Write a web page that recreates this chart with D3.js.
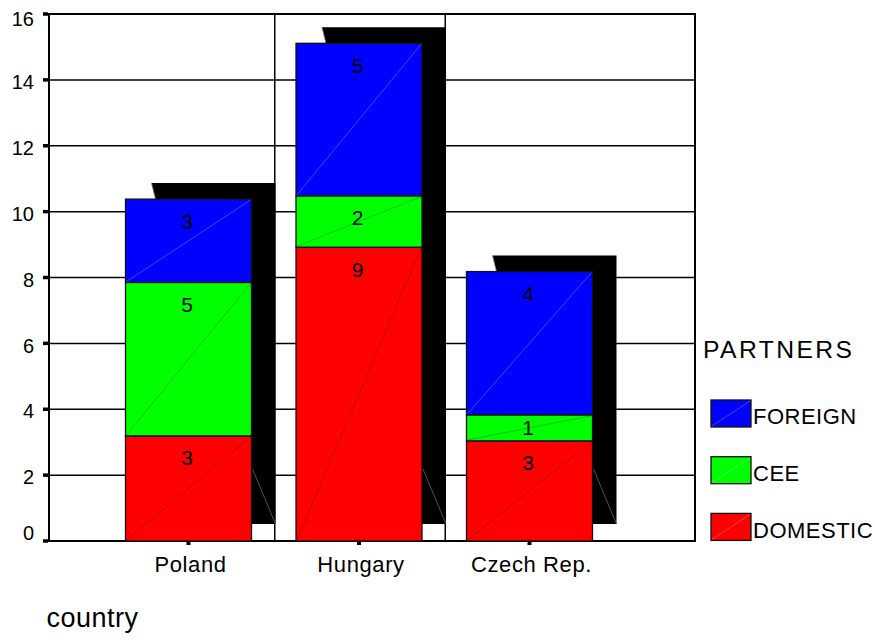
<!DOCTYPE html>
<html>
<head>
<meta charset="utf-8">
<script src="https://cdn.jsdelivr.net/npm/d3@7"></script>
<style>
  body { margin: 0; background: #fff; }
  svg { display: block; }
  text { font-family: "Liberation Sans", Arial, sans-serif; fill: #000; }
</style>
</head>
<body>
<svg id="chart" width="875" height="642"></svg>
<script>
// Partner counts per country (stacked bottom to top: DOMESTIC, CEE, FOREIGN)
const countries = ["Poland", "Hungary", "Czech Rep."];
const partners = ["DOMESTIC", "CEE", "FOREIGN"];
const domestic = [3.19, 8.92, 3.04];
const cee = [4.66, 1.56, 0.79];
const foreign = [2.53, 4.63, 4.35];
const yTicks = [0, 2, 4, 6, 8, 10, 12, 14, 16];
const partnerColors = ["#ff0000", "#00ff00", "#0000ff"];
const legendOrder = ["FOREIGN", "CEE", "DOMESTIC"];

const svg = d3.select("#chart");
const plot = { left: 49, right: 695, top: 14, bottom: 541 };

const y = d3.scaleLinear().domain([0, 16]).range([plot.bottom, plot.top]);
const x = d3.scaleBand().domain(countries).range([103.25, 614.75])
  .paddingInner(0.261).paddingOuter(0.1305);
const color = d3.scaleOrdinal().domain(partners).range(partnerColors);
const fmt = d3.format(".0f");

const table = countries.map((c, i) => ({
  country: c, DOMESTIC: domestic[i], CEE: cee[i], FOREIGN: foreign[i]
}));
const series = d3.stack().keys(partners)(table);

// horizontal grid lines
svg.append("g").selectAll("line").data(yTicks.slice(1)).join("line")
  .attr("x1", plot.left).attr("x2", plot.right)
  .attr("y1", d => y(d)).attr("y2", d => y(d))
  .attr("stroke", "#000").attr("stroke-width", 1.5);

// vertical separators between the country groups
const gap = x.step() * x.paddingInner() / 2;
svg.append("g").selectAll("line").data(countries.slice(1)).join("line")
  .attr("x1", d => x(d) - gap + 1).attr("x2", d => x(d) - gap + 1)
  .attr("y1", plot.top).attr("y2", plot.bottom)
  .attr("stroke", "#000").attr("stroke-width", 1.5);

// frame
svg.append("rect")
  .attr("x", plot.left).attr("y", plot.top)
  .attr("width", plot.right - plot.left).attr("height", plot.bottom - plot.top)
  .attr("fill", "none").attr("stroke", "#000").attr("stroke-width", 2);

// drop shadows behind each stacked bar
const sdx = 24, sdyTop = 16, sdyBottom = 17;
const totals = table.map(d => d.DOMESTIC + d.CEE + d.FOREIGN);
const shadows = svg.append("g");
table.forEach((d, i) => {
  const x0 = x(d.country), x1 = x0 + x.bandwidth();
  const top = y(totals[i]), base = y(0);
  const pts = [
    [x0 + 26, top - sdyTop], [x1 + sdx, top - sdyTop], [x1 + sdx, base - sdyBottom],
    [x1, base - sdyBottom], [x1, top], [x0 + 30, top]
  ];
  shadows.append("polygon")
    .attr("points", pts.map(p => p.join(",")).join(" "))
    .attr("fill", "#000");
  shadows.append("line")
    .attr("x1", x0 + 26).attr("y1", top - sdyTop)
    .attr("x2", x0 + 30).attr("y2", top)
    .attr("stroke", "#777").attr("stroke-width", 0.8);
  shadows.append("line")
    .attr("x1", x1 + 1).attr("y1", base - sdyBottom - 55)
    .attr("x2", x1 + sdx).attr("y2", base - sdyBottom)
    .attr("stroke", "#666").attr("stroke-width", 0.8);
});

// stacked segments
const layers = svg.append("g").selectAll("g").data(series).join("g");
layers.selectAll("rect").data(s => s.map(v => ({ key: s.key, v }))).join("rect")
  .attr("x", d => x(d.v.data.country))
  .attr("y", d => y(d.v[1]))
  .attr("width", x.bandwidth())
  .attr("height", d => y(d.v[0]) - y(d.v[1]))
  .attr("fill", d => color(d.key))
  .attr("stroke", "#111").attr("stroke-width", 1.3);

// faint diagonal highlight in each segment
layers.selectAll("line").data(s => s.map(v => ({ key: s.key, v }))).join("line")
  .attr("x1", d => x(d.v.data.country) + 1)
  .attr("y1", d => y(d.v[0]) - 1)
  .attr("x2", d => x(d.v.data.country) + x.bandwidth() - 1)
  .attr("y2", d => y(d.v[1]) + 1)
  .attr("stroke", d => d.key === "FOREIGN" ? "rgba(255,255,255,0.35)" : "rgba(0,0,0,0.3)")
  .attr("stroke-width", 0.8);

// value labels
layers.selectAll("text").data(s => s.map(v => ({ key: s.key, v }))).join("text")
  .attr("x", d => x(d.v.data.country) + x.bandwidth() / 2 - 1.5)
  .attr("y", d => {
    const t = y(d.v[1]), b = y(d.v[0]);
    return Math.min(t + 22, (t + b) / 2);
  })
  .attr("dy", "0.36em")
  .attr("text-anchor", "middle")
  .attr("font-size", 21)
  .text(d => fmt(d.v[1] - d.v[0]));

// y axis ticks and labels
const yAxis = svg.append("g").attr("transform", `translate(${plot.left},0)`)
  .call(d3.axisLeft(y).tickValues(yTicks).tickSize(5).tickPadding(10).tickFormat(d3.format("d")));
yAxis.select(".domain").remove();
yAxis.selectAll(".tick line").attr("stroke", "#000").attr("stroke-width", 3.5)
  .attr("transform", "translate(-1,-0.5)");
yAxis.selectAll(".tick text")
  .attr("font-size", 20).attr("font-family", "Liberation Sans, Arial, sans-serif").attr("fill", "#000")
  .attr("y", d => Math.max(plot.top + 4.7, Math.min(plot.bottom - 9, y(d) + 1.5)) - y(d))
  .attr("dy", "0.36em");

// x axis ticks and category labels
const xAxis = svg.append("g").attr("transform", `translate(0,${plot.bottom})`)
  .call(d3.axisBottom(x).tickSize(4).tickPadding(11));
xAxis.select(".domain").remove();
xAxis.selectAll(".tick line").attr("stroke", "#000").attr("stroke-width", 4);
xAxis.selectAll(".tick text")
  .attr("font-size", 22).attr("font-family", "Liberation Sans, Arial, sans-serif").attr("fill", "#000")
  .attr("letter-spacing", 0.6)
  .attr("dx", 2);

// axis title
svg.append("text").attr("x", 46.5).attr("y", 627.3)
  .attr("font-size", 27).attr("letter-spacing", 0.5).text("country");

// legend
svg.append("text").attr("x", 703).attr("y", 358.3)
  .attr("font-size", 24.7).attr("letter-spacing", 2.4).text("PARTNERS");
const legend = svg.append("g").selectAll("g").data(legendOrder).join("g")
  .attr("transform", (d, i) => `translate(711,${400 + i * 56.7})`);
legend.append("rect").attr("width", 40).attr("height", 27)
  .attr("fill", d => color(d)).attr("stroke", "#111").attr("stroke-width", 1.3);
legend.append("line").attr("x1", 1).attr("y1", 26).attr("x2", 39).attr("y2", 1)
  .attr("stroke", "rgba(255,255,255,0.35)").attr("stroke-width", 0.8);
legend.append("text").attr("x", 42).attr("y", 24.3)
  .attr("font-size", 22).attr("letter-spacing", 0.5).text(d => d);
</script>
</body>
</html>
